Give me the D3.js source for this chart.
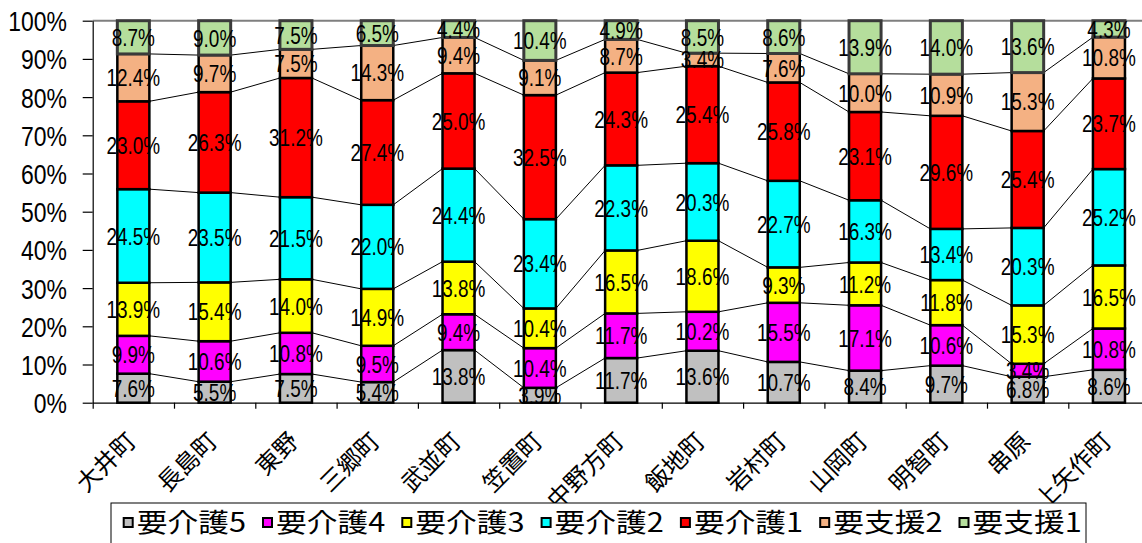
<!DOCTYPE html>
<html>
<head>
<meta charset="utf-8">
<script src="https://cdn.jsdelivr.net/npm/d3@7"></script>
<style>
  html, body { margin: 0; padding: 0; background: #fff; }
  svg { display: block; }
</style>
</head>
<body>
<svg id="chart" width="1142" height="543"></svg>
<script>
// Care-level composition by town (100% stacked)
const categories = ["大井町", "長島町", "東野", "三郷町", "武並町", "笠置町", "中野方町", "飯地町", "岩村町", "山岡町", "明智町", "串原", "上矢作町"];
const seriesNames = ["要介護5", "要介護4", "要介護3", "要介護2", "要介護1", "要支援2", "要支援1"];

const kaigo5 = [7.6, 5.5, 7.5, 5.4, 13.8, 3.9, 11.7, 13.6, 10.7, 8.4, 9.7, 6.8, 8.6];
const kaigo4 = [9.9, 10.6, 10.8, 9.5, 9.4, 10.4, 11.7, 10.2, 15.5, 17.1, 10.6, 3.4, 10.8];
const kaigo3 = [13.9, 15.4, 14.0, 14.9, 13.8, 10.4, 16.5, 18.6, 9.3, 11.2, 11.8, 15.3, 16.5];
const kaigo2 = [24.5, 23.5, 21.5, 22.0, 24.4, 23.4, 22.3, 20.3, 22.7, 16.3, 13.4, 20.3, 25.2];
const kaigo1 = [23.0, 26.3, 31.2, 27.4, 25.0, 32.5, 24.3, 25.4, 25.8, 23.1, 29.6, 25.4, 23.7];
const shien2 = [12.4, 9.7, 7.5, 14.3, 9.4, 9.1, 8.7, 3.4, 7.6, 10.0, 10.9, 15.3, 10.8];
const shien1 = [8.7, 9.0, 7.5, 6.5, 4.4, 10.4, 4.9, 8.5, 8.6, 13.9, 14.0, 13.6, 4.3];

const seriesValues = [kaigo5, kaigo4, kaigo3, kaigo2, kaigo1, shien2, shien1];
const seriesColors = ["#C0C0C0", "#FF00FF", "#FFFF00", "#00FFFF", "#FF0000", "#F4B183", "#B5DE9C"];

const yTickValues = [0, 0.1, 0.2, 0.3, 0.4, 0.5, 0.6, 0.7, 0.8, 0.9, 1.0];

// table for the stack layout
const rows = categories.map((c, i) => {
  const r = { cat: c };
  seriesNames.forEach((s, k) => { r[s] = seriesValues[k][i]; });
  return r;
});

const W = 1142, H = 543;
const plotLeft = 92.7, step = 81.3, plotTop = 20.7, plotBottom = 402.7;
const NUM_FONT = "'Liberation Sans', Arial, sans-serif";
const JP_FONT = "'Noto Sans CJK JP', 'Noto Sans', sans-serif";

const svg = d3.select("#chart");

const x = d3.scaleBand()
  .domain(categories)
  .range([plotLeft, plotLeft + step * categories.length])
  .paddingInner(0.606)
  .paddingOuter(0.303);

const y = d3.scaleLinear().domain([0, 1]).range([plotBottom, plotTop]);

const stack = d3.stack().keys(seriesNames).offset(d3.stackOffsetExpand);
const layers = stack(rows);

// plot-area top border
svg.append("line")
  .attr("x1", plotLeft).attr("x2", W)
  .attr("y1", y(1)).attr("y2", y(1))
  .attr("stroke", "#7f7f7f").attr("stroke-width", 2);

// y axis
const yAxis = svg.append("g")
  .attr("transform", `translate(${plotLeft},0)`)
  .call(d3.axisLeft(y).tickValues(yTickValues).tickFormat(d3.format(".0%")).tickSize(10).tickSizeOuter(0));
yAxis.select(".domain").attr("stroke", "#000").attr("stroke-width", 1.2);
yAxis.selectAll(".tick line").attr("stroke", "#000").attr("stroke-width", 1.2);
yAxis.selectAll(".tick text")
  .attr("font-family", NUM_FONT)
  .attr("font-size", 28)
  .attr("fill", "#000")
  .attr("x", -25.7 / 0.82)
  .attr("dy", "0.36em")
  .attr("transform", "scale(0.82,1)");

// x axis: boundary tick marks
const boundary = d3.scaleLinear().domain([0, categories.length]).range([plotLeft, plotLeft + step * categories.length]);
const xAxis = svg.append("g")
  .attr("transform", `translate(0,${plotBottom})`)
  .call(d3.axisBottom(boundary).tickValues(d3.range(categories.length + 1)).tickFormat("").tickSize(6).tickSizeOuter(0));
xAxis.select(".domain").attr("stroke", "#000").attr("stroke-width", 1.2);
xAxis.selectAll(".tick line").attr("stroke", "#000").attr("stroke-width", 1.2);

// category labels
const catAxis = svg.append("g")
  .attr("transform", `translate(0,${plotBottom})`)
  .call(d3.axisBottom(x).tickSize(0));
catAxis.select(".domain").remove();
catAxis.selectAll(".tick text")
  .attr("font-family", JP_FONT)
  .attr("font-size", 24)
  .attr("fill", "#000")
  .attr("text-anchor", "end")
  .attr("x", null).attr("y", null).attr("dy", null)
  .attr("transform", "translate(4,40) rotate(-45)");

// series lines between adjacent bars
const lineG = svg.append("g");
layers.slice(0, layers.length - 1).forEach(layer => {
  for (let i = 0; i < layer.length - 1; i++) {
    const a = layer[i], b = layer[i + 1];
    lineG.append("line")
      .attr("x1", x(a.data.cat) + x.bandwidth())
      .attr("y1", y(a[1]))
      .attr("x2", x(b.data.cat))
      .attr("y2", y(b[1]))
      .attr("stroke", "#000")
      .attr("stroke-width", 1);
  }
});

// stacked bars
const barG = svg.append("g");
layers.forEach((layer, k) => {
  barG.append("g")
    .selectAll("rect")
    .data(layer)
    .join("rect")
    .attr("x", d => x(d.data.cat))
    .attr("y", d => y(d[1]))
    .attr("width", x.bandwidth())
    .attr("height", d => y(d[0]) - y(d[1]))
    .attr("fill", seriesColors[k])
    .attr("stroke", k === layers.length - 1 ? "#3a3a3a" : "#000")
    .attr("stroke-width", k === layers.length - 1 ? 3 : 2.5);
});

// value labels
const labelG = svg.append("g");
layers.forEach((layer, k) => {
  labelG.append("g")
    .selectAll("text")
    .data(layer)
    .join("text")
    .attr("transform", d => `translate(${x(d.data.cat) + x.bandwidth() / 2},${y((d[0] + d[1]) / 2)}) scale(0.79,1)`)
    .attr("text-anchor", "middle")
    .attr("dy", "0.36em")
    .attr("font-family", NUM_FONT)
    .attr("font-size", 24)
    .attr("fill", "#000")
    .text((d, i) => seriesValues[k][i].toFixed(1) + "%");
});

// legend
const legend = svg.append("g");
legend.append("rect")
  .attr("x", 111).attr("y", 503)
  .attr("width", 975).attr("height", 60)
  .attr("fill", "#fff").attr("stroke", "#000").attr("stroke-width", 1);
const legendX = d3.scalePoint().domain(seriesNames).range([122.7, 122.7 + 139.3 * (seriesNames.length - 1)]);
seriesNames.forEach((s, k) => {
  const g = legend.append("g").attr("transform", `translate(${legendX(s)},0)`);
  g.append("rect")
    .attr("x", 1).attr("y", 518)
    .attr("width", 9).attr("height", 9)
    .attr("fill", seriesColors[k])
    .attr("stroke", "#000").attr("stroke-width", 2);
  g.append("text")
    .attr("transform", "translate(14,532) scale(1.16,1)")
    .attr("font-family", JP_FONT)
    .attr("font-size", 26.5)
    .attr("fill", "#000")
    .text(s);
});
</script>
</body>
</html>
